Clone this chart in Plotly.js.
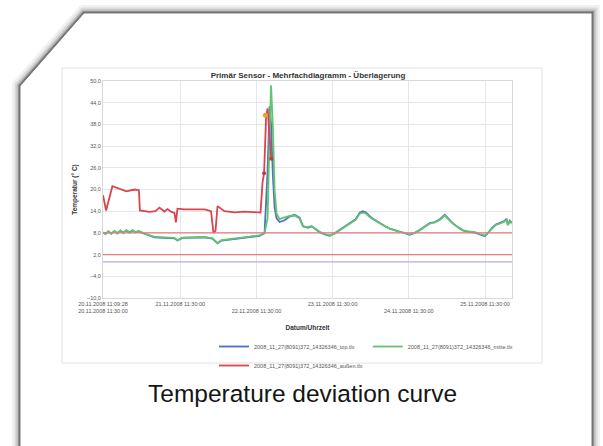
<!DOCTYPE html>
<html>
<head>
<meta charset="utf-8">
<script src="https://cdn.plot.ly/plotly-3.0.1.min.js"></script>
<style>html,body{margin:0;padding:0;background:#fff;}#chart{width:603px;height:446px;}</style>
</head>
<body>
<div id="chart"></div>
<script>
// ---------------- data ----------------
const seriesNames = [
  "2008_11_27(8091)372_14326346_top.tlx",
  "2008_11_27(8091)372_14326346_mitte.tlx",
  "2008_11_27(8091)372_14326346_au\u00dfen.tlx"
];
const timesTopMid = [
  '2008-11-20 11:10','2008-11-20 11:55','2008-11-20 12:51','2008-11-20 13:48','2008-11-20 14:45',
  '2008-11-20 15:41','2008-11-20 16:38','2008-11-20 17:35','2008-11-20 18:32','2008-11-20 19:29',
  '2008-11-20 20:26','2008-11-20 21:22','2008-11-20 22:19','2008-11-20 23:16','2008-11-21 00:13',
  '2008-11-21 03:22','2008-11-21 06:31','2008-11-21 09:40','2008-11-21 10:37','2008-11-21 12:12',
  '2008-11-21 15:59','2008-11-21 19:08','2008-11-21 21:40','2008-11-21 23:14','2008-11-22 00:30',
  '2008-11-22 04:35','2008-11-22 09:19','2008-11-22 12:28','2008-11-22 14:03','2008-11-22 15:00',
  '2008-11-22 15:38','2008-11-22 16:06','2008-11-22 16:40','2008-11-22 17:13','2008-11-22 17:50',
  '2008-11-22 18:47','2008-11-22 20:22','2008-11-22 21:56','2008-11-22 23:31','2008-11-23 01:05',
  '2008-11-23 02:08','2008-11-23 03:37','2008-11-23 04:53','2008-11-23 06:08','2008-11-23 07:24',
  '2008-11-23 08:59','2008-11-23 10:33','2008-11-23 12:08','2008-11-23 13:43','2008-11-23 15:36',
  '2008-11-23 17:24','2008-11-23 18:45','2008-11-23 20:01','2008-11-23 20:58','2008-11-23 21:55',
  '2008-11-23 23:10','2008-11-24 00:45','2008-11-24 02:19','2008-11-24 03:54','2008-11-24 05:29',
  '2008-11-24 07:03','2008-11-24 08:38','2008-11-24 10:13','2008-11-24 11:47','2008-11-24 13:22',
  '2008-11-24 14:56','2008-11-24 16:31','2008-11-24 18:05','2008-11-24 19:40','2008-11-24 21:15',
  '2008-11-24 22:49','2008-11-25 00:05','2008-11-25 01:20','2008-11-25 02:55','2008-11-25 04:30',
  '2008-11-25 06:23','2008-11-25 08:17','2008-11-25 09:52','2008-11-25 11:26','2008-11-25 12:23',
  '2008-11-25 13:39','2008-11-25 14:55','2008-11-25 16:10','2008-11-25 17:26','2008-11-25 18:17',
  '2008-11-25 18:41','2008-11-25 19:19','2008-11-25 19:52'
];
const tempTop = [
  8.0,7.8,8.3,7.9,8.4, 8.0,8.5,8.1,8.6,8.2, 8.6,8.2,8.4,8.1,7.7,
  6.8,6.6,6.5,5.9,6.6, 6.7,6.8,6.4,5.1,5.9, 6.4,6.8,7.2,7.9,25.0,
  43.0,38.0,24.0,15.0,12.0, 11.0,11.5,12.5,13.0,12.2, 9.9,9.4,9.8,9.1,8.2,
  7.6,7.2,7.9,8.8,9.8, 10.8,11.8,13.6,14.0,13.7, 12.6,11.6,10.7,9.9,9.2,
  8.7,8.2,7.9,7.5,8.0, 8.8,9.8,10.7,11.0,11.8, 13.0,11.8,10.7,9.6,8.7,
  8.3,8.1,7.6,7.1,7.9, 9.3,10.3,10.8,11.2,11.9, 10.3,11.4,10.8
];
const tempMid = [
  8.2,7.6,8.5,7.7,8.6, 7.8,8.7,7.9,8.8,8.0, 8.8,8.1,8.6,8.2,7.8,
  6.9,6.7,6.6,6.0,6.7, 6.8,6.9,6.5,5.2,6.0, 6.5,6.9,7.3,8.0,12.0,
  35.0,48.8,37.3,19.8,13.4, 11.8,12.3,12.7,12.8,12.0, 9.8,9.6,9.9,9.0,8.3,
  7.7,7.3,7.8,8.7,9.6, 10.6,11.6,13.3,13.6,13.4, 12.4,11.5,10.6,9.9,9.2,
  8.7,8.3,8.0,7.6,8.0, 8.7,9.7,10.6,10.9,11.6, 12.8,11.7,10.6,9.6,8.7,
  8.4,8.2,7.7,7.3,8.0, 9.2,10.2,10.6,11.0,11.6, 10.1,11.2,10.6
];
const timesOut = [
  '2008-11-20 11:10','2008-11-20 12:08','2008-11-20 14:07','2008-11-20 16:20','2008-11-20 18:32',
  '2008-11-20 21:04','2008-11-20 22:28','2008-11-20 22:47','2008-11-21 01:47','2008-11-21 03:41',
  '2008-11-21 04:56','2008-11-21 06:31','2008-11-21 07:28','2008-11-21 08:43','2008-11-21 09:40',
  '2008-11-21 10:08','2008-11-21 10:37','2008-11-21 12:49','2008-11-21 15:59','2008-11-21 19:08',
  '2008-11-21 21:11','2008-11-21 21:58','2008-11-21 22:36','2008-11-21 23:14','2008-11-22 01:26',
  '2008-11-22 04:35','2008-11-22 07:45','2008-11-22 10:54','2008-11-22 12:47','2008-11-22 13:25',
  '2008-11-22 13:54','2008-11-22 14:32','2008-11-22 15:00','2008-11-22 16:10'
];
const tempOut = [
  18.4,14.2,20.9,20.3,19.5, 20.0,19.8,14.2,13.8,14.0,
  15.0,13.9,14.6,13.8,13.5, 10.9,14.7,14.5,14.4,14.5,
  14.0,8.0,8.6,15.4,14.0, 13.7,13.9,13.6,13.6,22.0,
  24.5,40.0,42.4,28.5
];
const markTimes = ['2008-11-22 13:54','2008-11-22 16:10'];
const markTemps = [24.5, 28.5];
const peakMarkTime = ['2008-11-22 14:20'];
const peakMarkTemp = [40.5];
const limitValues = [8, 2, 0];
const xTickVals = ['2008-11-20 11:09:28','2008-11-21 11:30:00','2008-11-22 11:30:00','2008-11-23 11:30:00','2008-11-24 11:30:00','2008-11-25 11:30:00'];
const xTickText = ['20.11.2008 11:09:28<br>20.11.2008 11:30:00','21.11.2008 11:30:00','<br>22.11.2008 11:30:00','23.11.2008 11:30:00','<br>24.11.2008 11:30:00','25.11.2008 11:30:00'];
const xRange = ['2008-11-20 11:09:28','2008-11-25 20:00:00'];
const yRange = [-10, 50];

// ---------------- geometry helpers ----------------
const W = 603, H = 446;
const M = {l: 103, r: 91, t: 81, b: 148};
const PW = W - M.l - M.r, PH = H - M.t - M.b;
const px = v => (v - M.l) / PW;
const py = v => (H - M.b - v) / PH;
const pathOf = pts => pts.map((p, i) => (i ? 'L' : 'M') + px(p[0]).toFixed(4) + ',' + py(p[1]).toFixed(4)).join(' ') + ' Z';

const cardPts = [[84, 13], [592, 13], [592, 460], [20, 460], [20, 86]];
const shapes = [];
[[16, 0.07], [11, 0.11], [7, 0.18], [4, 0.3], [2, 0.4]].forEach(([w, o]) => {
  shapes.push({type: 'path', xref: 'paper', yref: 'paper', path: pathOf(cardPts), layer: 'below',
    line: {color: 'rgba(50,50,50,' + o + ')', width: w}, fillcolor: 'rgba(0,0,0,0)'});
});
shapes.push({type: 'path', xref: 'paper', yref: 'paper', path: pathOf(cardPts), layer: 'below',
  line: {color: '#7a7a7a', width: 1}, fillcolor: '#ffffff'});
shapes.push({type: 'rect', xref: 'paper', yref: 'paper', x0: px(62), x1: px(542), y0: py(363), y1: py(68),
  layer: 'below', line: {color: '#e2e2e2', width: 1}, fillcolor: 'rgba(0,0,0,0)'});
const limitColors = ['#e57a80', '#e57a80', '#b9a9dc'];
limitValues.forEach((v, i) => {
  shapes.push({type: 'line', xref: 'paper', yref: 'y', x0: 0, x1: 1, y0: v, y1: v,
    line: {color: limitColors[i], width: 1.3}});
});

const traces = [
  {x: timesTopMid, y: tempTop, name: seriesNames[0], mode: 'lines', line: {color: '#4f6fc4', width: 1.8}},
  {x: timesTopMid, y: tempMid, name: seriesNames[1], mode: 'lines', line: {color: '#62c46e', width: 1.8}},
  {x: timesOut, y: tempOut, name: seriesNames[2], mode: 'lines', line: {color: '#d8454f', width: 1.8}},
  {x: markTimes, y: markTemps, mode: 'markers', showlegend: false, marker: {color: '#c23a44', size: 4}},
  {x: peakMarkTime, y: peakMarkTemp, mode: 'markers', showlegend: false, marker: {color: '#f39a2a', size: 5}}
];

const layout = {
  width: W, height: H,
  margin: M,
  paper_bgcolor: '#ffffff',
  plot_bgcolor: 'rgba(0,0,0,0)',
  separators: ',.',
  font: {family: 'Liberation Sans, Arial, sans-serif', size: 5.5, color: '#555'},
  title: {text: '<b>Prim\u00e4r Sensor - Mehrfachdiagramm - \u00dcberlagerung</b>', font: {size: 8, color: '#333'},
    x: 308 / W, xanchor: 'center', y: 1 - 75 / H, yanchor: 'middle', yref: 'container', xref: 'container'},
  xaxis: {type: 'date', range: xRange, tickmode: 'array', tickvals: xTickVals, ticktext: xTickText,
    tickangle: 0, showgrid: true, gridcolor: '#e6e6e6', gridwidth: 1, zeroline: false,
    showline: true, linecolor: '#d8d8d8', mirror: true, ticks: '', tickfont: {size: 5.5, color: '#555'},
    title: {text: '<b>Datum/Uhrzeit</b>', font: {size: 6.5, color: '#333'}, standoff: 12}},
  yaxis: {range: yRange, tick0: -10, dtick: 6, tickformat: '.1f', showgrid: true, gridcolor: '#e6e6e6',
    zeroline: false, showline: true, linecolor: '#d8d8d8', mirror: true, ticks: '',
    tickfont: {size: 5.5, color: '#555'},
    title: {text: '<b>Temperatur (\u00b0 C)</b>', font: {size: 6.5, color: '#333'}, standoff: 8}},
  legend: {orientation: 'h', x: px(214), y: py(332), xanchor: 'left', yanchor: 'top',
    font: {size: 5.5, color: '#555'}, itemwidth: 30,
    bgcolor: 'rgba(0,0,0,0)', tracegroupgap: 0},
  shapes: shapes,
  annotations: [
    {text: 'Temperature deviation curve', xref: 'paper', yref: 'paper', x: px(302), y: py(393),
      xanchor: 'center', yanchor: 'middle', showarrow: false,
      font: {family: 'Liberation Sans Narrow, Arial Narrow, Liberation Sans, Arial, sans-serif', size: 24.5, color: '#151515'}}
  ],
  showlegend: true
};

Plotly.newPlot('chart', traces, layout, {displayModeBar: false, staticPlot: true});
</script>
</body>
</html>
